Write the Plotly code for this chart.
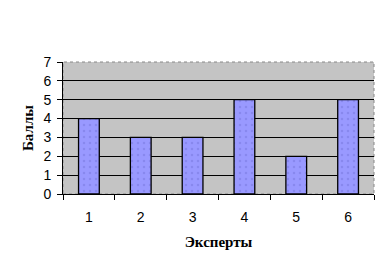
import plotly.graph_objects as go

experts = ["1", "2", "3", "4", "5", "6"]
scores = [4, 3, 3, 5, 2, 5]
y_ticks = [0, 1, 2, 3, 4, 5, 6, 7]

fig = go.Figure()
fig.add_trace(go.Bar(
    x=experts, y=scores,
    marker=dict(color="#9999FF", line=dict(color="black", width=1.3),
                pattern=dict(shape=".", fgcolor="#7777DD", size=6, solidity=0.15)),
    width=0.4,
))

fig.update_layout(
    width=389, height=270,
    margin=dict(l=63, r=15, t=62, b=76),
    paper_bgcolor="white",
    plot_bgcolor="#C4C4C4",
    showlegend=False,
    xaxis=dict(
        type="category",
        showline=True, linecolor="black", linewidth=1,
        ticks="outside", tickson="boundaries", ticklen=5, tickcolor="black",
        tickfont=dict(family="Liberation Sans, Arial", size=14, color="black"),
        ticklabelstandoff=10,
        showgrid=False,
        title=dict(text="<b>Эксперты</b>", font=dict(family="Liberation Serif, Times New Roman", size=15, color="black"), standoff=12),
    ),
    yaxis=dict(
        range=[0, 7], tickvals=y_ticks,
        showline=True, linecolor="black", linewidth=1,
        ticks="outside", ticklen=5, tickcolor="black",
        tickfont=dict(family="Liberation Sans, Arial", size=14, color="black"),
        ticklabelstandoff=3,
        showgrid=True, gridcolor="black", gridwidth=1,
        zeroline=False,
        title=dict(text="<b>Баллы</b>", font=dict(family="Liberation Serif, Times New Roman", size=15, color="black"), standoff=6),
    ),
)
fig.add_shape(type="rect", xref="paper", yref="paper", x0=0, x1=1, y0=0, y1=1,
              line=dict(color="#888888", width=1, dash="dot"), layer="below")

fig.write_html("out.html")
